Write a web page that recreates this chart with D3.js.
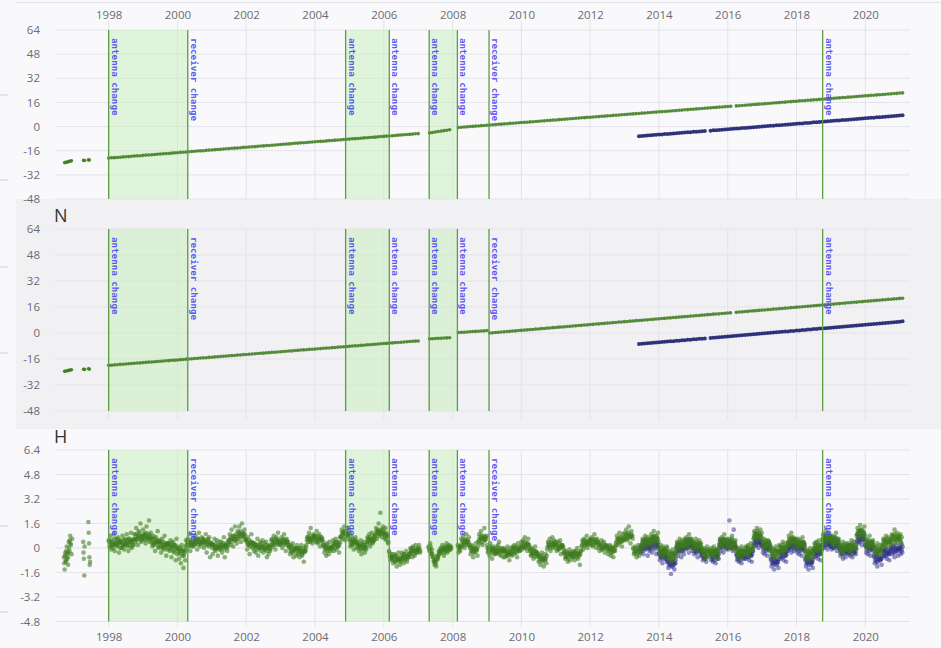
<!DOCTYPE html>
<html>
<head>
<meta charset="utf-8">
<script src="https://cdn.jsdelivr.net/npm/d3@7"></script>
<style>
  html, body { margin: 0; padding: 0; background: #f9f9fb; }
  svg { display: block; }
</style>
</head>
<body>
<svg id="chart" width="941" height="648"></svg>
<script>
// ---------------------------------------------------------------
// Station position time series: East, North (mm) and Height (mm)
// Two solutions: green (long record) and navy (recent record).
// ---------------------------------------------------------------

const yearTicks = [1998, 2000, 2002, 2004, 2006, 2008, 2010, 2012, 2014, 2016, 2018, 2020];
const posTicks = [64, 48, 32, 16, 0, -16, -32, -48];
const heightTicks = [6.4, 4.8, 3.2, 1.6, 0, -1.6, -3.2, -4.8];

// equipment events (decimal year) and their labels
const eventDates = [1998.0, 2000.3, 2004.89, 2006.16, 2007.32, 2008.14, 2009.06, 2018.76];
const eventLabels = ["antenna change", "receiver change", "antenna change", "antenna change",
                     "antenna change", "antenna change", "receiver change", "antenna change"];
// periods between paired events, highlighted
const shadedPairs = [[0, 1], [2, 3], [4, 5]];

// earliest campaign epochs
const earlyDates = [1996.72, 1996.76, 1996.80, 1996.84, 1996.88, 1996.92, 1997.27, 1997.30, 1997.41, 1997.44];
const eEarly = [-23.9, -23.6, -23.5, -23.2, -22.9, -22.7, -22.4, -22.5, -22.1, -22.2];
const nEarly = [-23.6, -23.4, -23.2, -23.0, -22.8, -22.6, -22.3, -22.4, -22.0, -22.2];

// ---- East, monthly values ----
const eGreenA = [ // from 1998.00
 -20.9,-20.7,-20.6,-20.5,-20.3,-20.1,-20.0,-19.9,-19.7,-19.5,-19.4,-19.3,
 -19.1,-18.9,-18.8,-18.7,-18.5,-18.3,-18.2,-18.0,-17.9,-17.8,-17.6,-17.4,
 -17.3,-17.1,-17.0,-16.9,-16.7,-16.5,-16.4,-16.2,-16.1,-16.0,-15.8,-15.6,
 -15.5,-15.3,-15.2,-15.1,-14.9,-14.7,-14.6,-14.4,-14.3,-14.2,-14.0,-13.8,
 -13.7,-13.5,-13.4,-13.3,-13.1,-12.9,-12.8,-12.6,-12.5,-12.4,-12.2,-12.0,
 -11.9,-11.7,-11.6,-11.5,-11.3,-11.1,-11.0,-10.8,-10.7,-10.6,-10.4,-10.2,
 -10.1,-9.9,-9.8,-9.7,-9.5,-9.3,-9.2,-9.0,-8.9,-8.8,-8.6,-8.4,
 -8.3,-8.1,-8.0,-7.9,-7.7,-7.5,-7.4,-7.2,-7.1,-7.0,-6.8,-6.6,
 -6.5,-6.3,-6.2,-6.1,-5.9,-5.7,-5.6,-5.4,-5.3,-5.2,-5.0,-4.8,
 -4.7];
const eGreenB = [-4.2,-3.9,-3.6,-3.3,-3.0,-2.7,-2.4,-2.1]; // from 2007.33
const eGreenC = [ // from 2008.17
 -0.6,-0.4,-0.3,-0.2,0.0,0.1,0.3,0.4,0.6,0.7,0.9,1.0,
 1.2,1.3,1.5,1.6,1.8,1.9,2.1,2.2,2.4,2.5,2.7,2.8,
 2.9,3.1,3.2,3.4,3.5,3.7,3.8,4.0,4.1,4.3,4.4,4.6,
 4.7,4.9,5.0,5.2,5.3,5.5,5.6,5.8,5.9,6.1,6.2,6.3,
 6.5,6.6,6.8,6.9,7.1,7.2,7.4,7.5,7.7,7.8,8.0,8.1,
 8.3,8.4,8.6,8.7,8.9,9.0,9.2,9.3,9.5,9.6,9.8,9.9,
 10.0,10.2,10.3,10.5,10.6,10.8,10.9,11.1,11.2,11.4,11.5,11.7,
 11.8,12.0,12.1,12.3,12.4,12.6,12.7,12.9,13.0,13.2,13.3,13.4];
const eGreenD = [ // from 2016.25
 13.7,13.8,14.0,14.1,14.3,14.4,14.6,14.7,14.9,15.0,15.2,15.3,
 15.5,15.6,15.8,15.9,16.1,16.2,16.4,16.5,16.7,16.8,17.0,17.1,
 17.2,17.4,17.5,17.7,17.8,18.0,18.1,18.3,18.4,18.6,18.7,18.9,
 19.0,19.2,19.3,19.5,19.6,19.8,19.9,20.1,20.2,20.4,20.5,20.7,
 20.8,21.0,21.1,21.3,21.4,21.6,21.7,21.9,22.0,22.2,22.3];
const eBlueA = [ // from 2013.42
 -6.4,-6.2,-6.1,-5.9,-5.8,-5.6,-5.5,-5.3,-5.2,-5.0,-4.9,-4.7,
 -4.6,-4.4,-4.3,-4.1,-4.0,-3.8,-3.7,-3.5,-3.4,-3.2,-3.1,-2.9];
const eBlueB = [ // from 2015.50
 -2.7,-2.5,-2.4,-2.2,-2.1,-1.9,-1.8,-1.6,-1.5,-1.3,-1.2,-1.0,
 -0.9,-0.7,-0.6,-0.4,-0.3,-0.1,0.0,0.2,0.3,0.5,0.6,0.8,
 0.9,1.1,1.2,1.4,1.5,1.7,1.8,2.0,2.1,2.3,2.4,2.6,
 2.8,2.9,3.1,3.2,3.4,3.5,3.7,3.8,4.0,4.1,4.3,4.4,
 4.6,4.7,4.9,5.0,5.2,5.3,5.5,5.6,5.8,5.9,6.1,6.2,
 6.4,6.5,6.7,6.8,7.0,7.1,7.3,7.5];

// ---- North, monthly values ----
const nGreenA = [ // from 1998.00
 -19.9,-19.8,-19.6,-19.5,-19.3,-19.2,-19.1,-18.9,-18.8,-18.6,-18.5,-18.4,
 -18.2,-18.1,-17.9,-17.8,-17.7,-17.5,-17.4,-17.2,-17.1,-17.0,-16.8,-16.7,
 -16.6,-16.4,-16.3,-16.1,-16.0,-15.9,-15.7,-15.6,-15.4,-15.3,-15.2,-15.0,
 -14.9,-14.7,-14.6,-14.5,-14.3,-14.2,-14.0,-13.9,-13.8,-13.6,-13.5,-13.3,
 -13.2,-13.1,-12.9,-12.8,-12.6,-12.5,-12.4,-12.2,-12.1,-11.9,-11.8,-11.7,
 -11.5,-11.4,-11.2,-11.1,-11.0,-10.8,-10.7,-10.5,-10.4,-10.3,-10.1,-10.0,
 -9.9,-9.7,-9.6,-9.4,-9.3,-9.2,-9.0,-8.9,-8.7,-8.6,-8.5,-8.3,
 -8.2,-8.0,-7.9,-7.8,-7.6,-7.5,-7.3,-7.2,-7.1,-6.9,-6.8,-6.6,
 -6.5,-6.4,-6.2,-6.1,-5.9,-5.8,-5.7,-5.5,-5.4,-5.2,-5.1,-5.0,
 -4.9];
const nGreenB = [-3.6,-3.5,-3.4,-3.3,-3.2,-3.1,-3.0,-2.9]; // from 2007.33
const nGreenC = [0.3,0.4,0.5,0.6,0.8,0.9,1.0,1.1,1.2,1.3,1.5]; // from 2008.17
const nGreenD = [ // from 2009.08
 0.0,0.1,0.3,0.4,0.6,0.7,0.9,1.0,1.2,1.3,1.5,1.6,
 1.8,1.9,2.1,2.2,2.4,2.5,2.7,2.8,3.0,3.1,3.3,3.4,
 3.6,3.7,3.8,4.0,4.1,4.3,4.4,4.6,4.7,4.9,5.0,5.2,
 5.3,5.5,5.6,5.8,5.9,6.1,6.2,6.4,6.5,6.7,6.8,7.0,
 7.1,7.3,7.4,7.6,7.7,7.8,8.0,8.1,8.3,8.4,8.6,8.7,
 8.9,9.0,9.2,9.3,9.5,9.6,9.8,9.9,10.1,10.2,10.4,10.5,
 10.7,10.8,11.0,11.1,11.3,11.4,11.6,11.7,11.8,12.0,12.1,12.3,12.4];
const nGreenE = [ // from 2016.25
 12.7,12.9,13.0,13.2,13.3,13.5,13.6,13.8,13.9,14.1,14.2,14.4,
 14.5,14.7,14.8,15.0,15.1,15.3,15.4,15.6,15.7,15.9,16.0,16.2,
 16.3,16.5,16.6,16.8,16.9,17.1,17.2,17.4,17.5,17.7,17.8,18.0,
 18.1,18.3,18.4,18.6,18.7,18.9,19.0,19.2,19.3,19.5,19.6,19.8,
 19.9,20.1,20.2,20.4,20.5,20.7,20.8,21.0,21.1,21.3,21.4];
const nBlueA = [ // from 2013.42
 -6.8,-6.6,-6.5,-6.3,-6.2,-6.0,-5.9,-5.7,-5.6,-5.4,-5.3,-5.1,
 -5.0,-4.8,-4.7,-4.5,-4.4,-4.2,-4.1,-3.9,-3.8,-3.6,-3.5,-3.4];
const nBlueB = [ // from 2015.50
 -3.1,-2.9,-2.8,-2.6,-2.5,-2.3,-2.2,-2.0,-1.9,-1.7,-1.6,-1.4,
 -1.3,-1.1,-0.9,-0.8,-0.6,-0.5,-0.3,-0.2,0.0,0.1,0.3,0.4,
 0.6,0.7,0.9,1.0,1.2,1.3,1.5,1.6,1.8,1.9,2.1,2.2,
 2.4,2.5,2.7,2.8,3.0,3.1,3.3,3.4,3.6,3.7,3.9,4.0,
 4.2,4.3,4.5,4.6,4.8,4.9,5.1,5.2,5.4,5.5,5.7,5.8,
 6.0,6.1,6.3,6.4,6.6,6.7,6.9,7.2];

// ---- Height, solutions every 0.025 yr (two interleaved runs) ----
const hEarlyDates = [1996.70,1996.71,1996.72,1996.73,1996.74,1996.75,1996.76,1996.77,1996.78,1996.79,1996.80,1996.81,
                     1996.82,1996.83,1996.84,1996.85,1996.86,1996.87,1996.88,1996.89,1996.90,1996.92,1996.94,
                     1997.26,1997.27,1997.28,1997.29,1997.30,1997.41,1997.42,1997.43,1997.44,1997.45,1997.46];
const hEarly = [-0.6,-1.0,-1.4,-0.5,-0.3,-0.8,-0.9,-0.2,0.1,-0.4,-0.7,-0.6,
                -1.1,-0.3,0.4,0.0,-0.2,0.5,0.8,0.3,0.2,-0.4,0.6,
                0.4,-0.3,-0.7,-1.8,0.1,1.7,1.0,0.3,-0.6,-1.1,-0.9];
const hGreenA = [ // from 1998.000
 .5,.1,.8,-.1,.4,.2,.9,-.2,.3,.6, .1,.7,-.3,.4,.5,.0,.8,.2,-.1,.6,
 .3,.9,.1,-.2,.6,.4,1.0,.0,.5,.2, .9,.4,1.3,.6,.2,1.1,.8,1.6,.5,.7,
 1.2,.5,.9,.3,1.4,.7,.6,1.8,.4,1.0, .6,.1,.8,.3,-.2,.7,.4,1.1,.0,.5,
 .4,-.3,.6,.1,-.1,.8,.2,-.5,.3,.0, .3,-.2,.5,-.6,.1,.4,-.3,.2,-.8,.6,
 -.4,.1,-.7,-.1,-1.0,.2,-.5,-1.3,-.2,-.8, .5,-.1,.6,.2,.9,-.2,.4,.1,.7,.3,
 .2,.8,.5,-.1,.6,1.0,.3,.1,.7,.4, .6,.0,.4,.9,-.3,.5,.2,.7,-.6,.3,
 .3,-.4,.2,.6,-.2,.0,.5,-.5,.1,.4, -.1,.4,-.3,.2,.7,-.6,.1,.3,-.2,.5,
 .4,.9,.2,1.2,.6,.1,.8,1.4,.5,.3, 1.1,.6,1.4,.8,.4,1.6,.9,.7,1.2,.5,
 .5,-.1,.7,.2,-.4,.4,.9,.0,.3,-.2, .3,-.3,.2,.6,-.5,.0,.4,-.2,.1,.5,
 -.3,.3,-.1,.4,-.6,.1,-.4,.2,-.2,.5, .6,.1,.8,.3,-.1,.7,.5,1.0,.2,.4,
 .2,.7,.0,.5,.9,.3,-.2,.6,.4,.1, .1,-.4,.2,-.3,.3,-.6,-.1,.0,-.5,.2,
 -.4,.0,-.6,-.1,.2,-.5,-.3,-.9,.1,-.2, .2,.7,.4,1.0,.5,1.3,.6,.3,.9,.8,
 .8,.4,1.1,.3,.6,.9,.1,.7,.5,.2, .2,-.3,.1,-.5,.3,-.1,-.4,.4,.0,-.2,
 .0,.5,-.2,.3,.6,-.1,.4,.1,-.3,.7, .7,1.2,.6,1.0,1.4,.5,1.1,.8,1.3,.9,
 .6,.1,.8,.2,.5,-.1,.4,.7,.0,.3, .3,-.2,.1,.5,-.4,.2,-.1,.4,-.3,.0,
 .2,.7,.4,.9,.1,.6,1.0,.3,.8,.5, .8,1.3,.6,1.1,1.6,.9,2.3,1.2,.7,1.4,
 1.0,.6,1.3,.5,.9,.3,-.2,-.5,-.8,-.4, -.6,-1.0,-.4,-.9,-.5,-1.2,-.7,-.3,-.8,-1.1,
 -.8,-.3,-.6,-1.0,-.4,-.7,-.2,-.9,-.5,-.6, -.4,.0,-.3,-.6,.1,-.2,-.5,.2,-.1,-.3,
 -.1,.2,-.3];
const hGreenA2 = [ // from 1998.0125
 .4,.2,.5,.1,.3,.0,.6,.3,.2,.4, .2,.5,.3,.0,.4,.3,.1,.5,.2,.3,
 .5,.2,.4,.6,.3,.1,.4,.5,.2,.6, .6,.9,.5,.8,.7,1.0,.6,.4,.8,.7,
 .9,.6,.8,1.0,.7,.5,.9,.8,.6,.7, .3,.5,.2,.6,.4,.3,.5,.1,.4,.3,
 .1,.3,.0,.4,.2,.1,.3,-.1,.2,.3, .2,-.1,.1,.3,.0,-.2,.2,.1,-.1,.0,
 -.1,-.3,-.2,.0,-.4,-.2,-.1,-.5,-.3,.1, .2,.4,.3,.1,.5,.2,.3,.4,.1,.3,
 .5,.3,.4,.6,.2,.4,.5,.3,.4,.6, .3,.5,.2,.4,.3,.6,.1,.4,.3,.2,
 .0,.2,.1,-.1,.3,.1,.0,.2,-.1,.1, .2,.0,.1,.3,-.1,.1,.2,.0,.1,.3,
 .5,.7,.6,.4,.8,.6,.5,.7,.9,.6, .8,1.0,.9,1.1,.7,.9,1.0,.8,.9,.6,
 .4,.2,.3,.5,.1,.3,.4,.2,.3,.1, .0,.2,.1,-.1,.2,.1,.0,.3,.1,.0,
 .1,-.1,.0,.2,-.2,.0,.1,-.1,.0,.2, .3,.5,.4,.2,.6,.4,.3,.5,.4,.3,
 .5,.3,.4,.6,.2,.4,.5,.3,.4,.2, .0,-.2,-.1,.1,-.3,-.1,.0,-.2,-.1,.0,
 -.1,-.3,-.2,.0,-.4,-.2,-.1,-.3,-.2,.0, .5,.7,.6,.8,.4,.6,.7,.5,.6,.8,
 .7,.5,.6,.8,.4,.6,.5,.7,.6,.4, .1,-.1,.0,.2,-.2,.0,.1,-.1,.0,.1,
 .1,.3,.2,.0,.4,.2,.1,.3,.2,.4, .8,1.0,.9,1.1,.7,.9,1.0,.8,.9,1.1,
 .5,.3,.4,.2,.6,.4,.3,.5,.4,.2, .0,.2,.1,-.1,.3,.1,.0,.2,.1,-.1,
 .4,.6,.5,.7,.3,.5,.6,.4,.5,.7, .9,1.1,1.0,1.2,.8,1.0,1.1,.9,1.0,1.2,
 .9,.8,1.0,.7,.8,.4,-.3,-.6,-.7,-.6, -.6,-.8,-.7,-.5,-.9,-.7,-.6,-.8,-.7,-.9,
 -.5,-.7,-.6,-.4,-.8,-.6,-.5,-.7,-.6,-.4, -.3,-.1,-.2,.0,-.4,-.2,-.1,-.3,-.2,.0,
 -.1,.0,-.2];
const hGreenB = [ // from 2007.300
 .1,-.2,.3,-.4,-.1,-.6,-.9,-1.1,-.8,-1.2,-.5,-.7,-.2,-.4,.0,-.3,.2,-.1,-.5,.1,-.2,.3,-.3,.0,.2,-.1,.1];
const hGreenB2 = [ // from 2007.3125
 .0,-.1,.1,-.3,-.4,-.6,-.8,-.9,-1.0,-.8,-.6,-.5,-.3,-.2,-.1,-.2,.0,-.1,-.3,.0,-.1,.1,-.2,.0,.1,-.1,.0];
const hGreenC = [ // from 2008.150
 .2,-.3,.1,-.2,
 .6,.1,.8,.3,.0,.5,.9,.2,.4,.7, .1,-.4,.2,-.2,-.6,.0,-.3,.3,-.1,-.5, .4,.9,.3,1.1,.6,.2,.8,1.3,.5,.7,
 .2,-.3,.0,-.5,.3,-.2,-.7,.1,-.4,-.1, -.4,.1,-.3,.2,.4,-.1,-.5,.0,-.2,-.6,
 -.1,-.6,-.2,-.5,.1,-.4,-.8,-.3,.0,-.5, .1,-.4,.2,-.3,.0,-.6,.3,-.1,-.2,.1,
 .4,-.1,.5,.1,.7,.0,.3,-.2,.6,.2, -.1,-.5,.0,-.4,-.7,-.2,.1,-.6,-.3,-.4,
 -.9,-.5,-1.1,-.6,-.3,-.8,-1.2,-.7,-.4,-1.0, -.1,.4,.1,.6,-.2,.3,.7,.0,.5,.2,
 .3,-.2,.4,-.1,.0,.5,-.4,.2,.1,-.3, -.3,-.7,-.2,-.6,-.9,-.4,-.1,-.8,-.5,-.3,
 -.6,-.2,-.8,-.3,-.5,.0,-.7,-.4,-1.1,-.2, .1,.5,-.1,.6,.2,.4,.8,.0,.3,.5,
 .6,.2,.7,.1,.5,.9,.3,.0,.6,.4, .3,-.2,.2,.5,-.1,.0,.4,-.3,.1,.2,
 .1,-.4,-.1,.2,-.5,.0,-.3,-.6,.1,-.2, .3,.8,.2,.6,1.0,.4,.7,.1,.9,.5,
 1.0,.6,1.2,.5,.9,1.4,.7,.3,1.1,.8, .0,-.4,.1,-.3,-.6,-.1,.2,-.5,-.2,.1,
 .2,.6,.1,.5,.8,.3,.0,.7,.4,.6, .4,.9,.3,.7,1.1,.5,.2,.8,.6,1.0,
 .0,-.4,.2,-.3,-.6,.1,-.1,-.5,-.2,.1, -.3,-.7,-.2,-.6,-.9,-.4,-.1,-.8,-.5,-.3,
 .0,.4,-.1,.3,.6,.1,-.2,.5,.2,.4, .6,.2,.7,.1,.5,.9,.3,.0,.6,.4,
 .4,-.1,.3,.6,.0,.2,-.2,.5,.1,.3, -.1,-.5,.0,-.4,-.7,-.2,.1,-.6,-.3,-.1,
 -.4,.0,-.5,-.2,.1,-.6,-.3,-.1,-.7,-.2, .2,.6,.1,.7,.3,.5,.9,.0,.4,.6,
 .5,.1,.6,.0,.4,.8,.2,-.1,.3,.5, -.1,-.5,.0,-.4,-.7,-.2,.1,-.6,-.3,-.2,
 -.3,.1,-.4,.0,.2,-.5,-.2,.3,-.1,.0, .6,1.1,.7,.9,1.3,.5,1.0,.8,1.2,.7,
 .5,.1,.6,.0,.4,.2,-.1,.5,.3,.1, -.1,-.5,.0,-.4,-.7,-.2,.1,-.6,-.3,-.2,
 .2,-.3,.1,-.2,.4,-.4,.0,.3,-.1,.1, .3,.8,.2,.6,1.0,.4,.7,.1,.5,.6,
 .5,.0,.6,.2,.4,-.1,.3,.7,.1,.3, -.2,-.6,-.1,-.5,-.8,-.3,.0,-.7,-.4,-.2,
 -.1,.3,.0,.4,-.2,.2,.5,-.3,.1,.2, .4,.9,.5,.8,1.1,.3,.7,1.0,.6,.8,
 .7,.3,.8,.2,.6,.4,1.0,.1,.5,.6, .2,-.3,.1,-.2,.4,-.4,.0,.3,-.1,.1,
 .3,-.2,.2,-.1,.5,-.3,.1,.4,.0,.2, .8,1.3,.7,1.1,1.5,.9,1.2,.6,1.0,1.4,
 .5,.1,.6,.0,.4,.8,.2,-.1,.3,.5, .1,-.4,.0,-.3,.3,-.2,-.5,.2,-.1,-.3,
 .2,.6,.1,.5,.8,.3,.0,.7,.4,.6, .4,.9,.5,.8,1.2,.3,.7,1.0,.6,.8,
 .5,.9,.3];
const hGreenC2 = [ // from 2008.1625
 .1,-.1,.0,.1,
 .3,.5,.4,.2,.6,.4,.3,.5,.4,.2, .0,-.2,-.1,.1,-.3,-.1,.0,-.2,-.1,.1, .5,.7,.6,.8,.4,.6,.7,.5,.6,.8,
 .0,-.2,-.1,.1,-.3,-.1,.0,-.2,-.1,-.3, -.1,-.3,-.2,.0,-.4,-.2,-.1,-.3,-.2,.0,
 -.2,-.4,-.3,-.1,-.5,-.3,-.2,-.4,-.3,-.1, .0,-.2,-.1,.1,-.3,-.1,.0,-.2,-.1,.1,
 .1,.3,.2,.0,.4,.2,.1,.3,.2,.0, -.2,-.4,-.3,-.1,-.5,-.3,-.2,-.4,-.3,-.5,
 -.6,-.8,-.7,-.5,-.9,-.7,-.6,-.8,-.7,-.5, .1,.3,.2,.0,.4,.2,.1,.3,.2,.4,
 .0,.2,.1,-.1,.3,.1,.0,.2,.1,-.1, -.4,-.6,-.5,-.3,-.7,-.4,-.3,-.5,-.4,-.6,
 -.3,-.5,-.4,-.2,-.6,-.4,-.3,-.5,-.4,-.2, .2,.4,.3,.1,.5,.3,.2,.4,.3,.5,
 .3,.5,.4,.2,.6,.4,.3,.5,.4,.2, .0,.2,.1,-.1,.3,.1,.0,.2,.1,-.1,
 .0,-.2,-.1,.1,-.3,-.1,.0,-.2,-.1,.1, .4,.6,.5,.3,.7,.5,.4,.6,.5,.7,
 .7,.9,.8,.6,1.0,.8,.7,.9,.8,.6, -.1,-.3,-.2,.0,-.4,-.2,-.1,-.3,-.2,.0,
 .3,.5,.4,.2,.6,.4,.3,.5,.4,.2, .5,.7,.6,.4,.8,.6,.5,.7,.6,.4,
 -.1,-.3,-.2,.0,-.4,-.2,-.1,-.3,-.2,.0, -.4,-.6,-.5,-.3,-.7,-.4,-.3,-.5,-.4,-.6,
 .1,.3,.2,.0,.4,.2,.1,.3,.2,.0, .3,.5,.4,.2,.6,.4,.3,.5,.4,.2,
 .1,.3,.2,.0,.4,.2,.1,.3,.2,.0, -.2,-.4,-.3,-.1,-.5,-.2,-.1,-.3,-.2,-.4,
 -.2,-.4,-.3,-.1,-.5,-.2,-.1,-.3,-.2,-.4, .3,.5,.4,.2,.6,.4,.3,.5,.4,.2,
 .2,.4,.3,.1,.5,.3,.2,.4,.3,.1, -.2,-.4,-.3,-.1,-.5,-.2,-.1,-.3,-.2,-.4,
 .0,-.2,-.1,.1,-.3,-.1,.0,-.2,-.1,.1, .8,1.0,.9,.7,1.1,.8,.7,.9,.8,1.0,
 .2,.4,.3,.1,.5,.3,.2,.4,.3,.1, -.2,-.4,-.3,-.1,-.5,-.2,-.1,-.3,-.2,-.4,
 .1,-.1,.0,.2,-.2,.0,.1,-.1,.0,.2, .4,.6,.5,.3,.7,.5,.4,.6,.5,.3,
 .2,.4,.3,.1,.5,.3,.2,.4,.3,.1, -.3,-.5,-.4,-.2,-.6,-.3,-.2,-.4,-.3,-.5,
 .0,.2,.1,-.1,.3,.1,.0,.2,.1,-.1, .6,.8,.7,.5,.9,.6,.5,.7,.6,.8,
 .4,.6,.5,.3,.7,.5,.4,.6,.5,.3, .1,-.1,.0,.2,-.2,.0,.1,-.1,.0,.2,
 .0,.2,.1,-.1,.3,.1,.0,.2,.1,-.1, .9,1.1,1.0,.8,1.2,1.0,.9,1.1,1.0,.8,
 .2,.4,.3,.1,.5,.3,.2,.4,.3,.1, .0,-.2,-.1,.1,-.3,-.1,.0,-.2,-.1,.1,
 .3,.5,.4,.2,.6,.4,.3,.5,.4,.2, .6,.8,.7,.5,.9,.6,.5,.7,.6,.8,
 .6,.4,.7];
const hBlueA = [ // from 2013.450
 .1,-.3,
 -.2,.4,-.4,.2,-.1,.5,.0,-.5,.3,-.2, .0,.5,-.3,.3,.7,-.1,.2,-.4,.4,.1,
 -.3,-.8,-.2,-.6,-1.0,-.4,-.1,-.7,-.5,-.9, -.8,-1.3,-.6,-1.1,-1.7,-.9,-1.2,-.7,-1.4,-1.0,
 -.3,.2,-.5,.0,-.2,.3,-.6,-.1,.1,-.4, .4,-.1,.5,.0,.3,-.3,.6,.1,.2,-.2,
 .1,-.4,.2,-.3,.0,-.6,.3,-.2,-.1,-.5,
 -.4,-.8,-.3,-.7,-.5,-.9];
const hBlueA2 = [ // from 2013.4625
 .0,-.1,
 .0,.2,.1,-.1,.3,.1,.0,.2,.1,-.1, .1,.3,.2,.0,.4,.2,.1,.3,.2,.0,
 -.4,-.6,-.5,-.3,-.7,-.5,-.4,-.6,-.5,-.7, -.9,-1.1,-1.0,-.8,-1.2,-1.0,-.9,-1.1,-1.0,-.8,
 .0,-.2,-.1,.1,-.3,-.1,.0,-.2,-.1,.1, .1,.3,.2,.0,.4,.2,.1,.3,.2,.0,
 .0,-.2,-.1,.1,-.3,-.1,.0,-.2,-.1,-.3,
 -.5,-.6,-.4,-.7,-.5,-.6];
const hBlueB = [ // from 2015.500
 -.3,-.8,-.4,-.9,-.6,-.2,-1.0,-.5,-.7,-.4, .0,.5,-.2,.4,.1,-.3,.6,.2,-.1,.3,
 .4,-.1,1.8,.3,.0,.6,-.2,1.2,.2,.1, -.4,-.8,-.3,-.9,-.6,-.2,-1.0,-.5,-.7,-.3,
 -.2,-.7,-.3,-.6,-.1,-.8,-.4,-.5,-.9,-.2, .2,.7,.1,.5,.9,.3,.0,.6,.4,.2,
 .2,-.3,.1,-.4,.3,-.1,-.5,.0,.4,-.2, -.7,-1.2,-.6,-1.0,-1.4,-.8,-.5,-1.1,-.9,-1.3,
 -.2,-.7,-.3,-.6,-.1,-.8,-.4,-.5,-.9,-.2, -.1,.4,.0,.3,-.3,.2,.5,-.2,.1,.3,
 .2,-.3,.1,-.4,.3,-.1,-.5,.0,.4,-.2, -.7,-1.2,-.6,-1.0,-1.4,-.8,-.5,-1.1,-.9,-1.3,
 -.1,-.6,-.2,-.5,.0,-.7,-.3,-.4,-.8,-.1, .1,.6,.0,.4,.8,.2,-.1,.5,.3,.1,
 .4,-.1,.5,.0,.3,.7,.1,-.2,.2,.4, .0,-.5,.1,-.4,-.7,-.1,.2,-.6,-.3,.0,
 -.4,.1,-.5,-.1,.2,-.6,-.2,-.3,.0,-.4, .4,.9,.3,.7,1.1,.5,.2,.8,.6,.9,
 .2,-.3,.1,-.4,.3,-.1,-.5,.0,.4,-.2, -.5,-1.0,-.4,-.9,-1.2,-.6,-.3,-.8,-.7,-1.1,
 -.1,-.6,-.2,-.5,.0,-.7,-.3,-.4,-.8,-.1, .1,-.4,.2,-.3,-.6,.0,-.2,.3,-.5,-.1,
 .0,-.4,.2,-.3];
const hBlueB2 = [ // from 2015.5125
 -.5,-.7,-.6,-.4,-.8,-.5,-.4,-.6,-.5,-.7, .1,.3,.2,.0,.4,.2,.1,.3,.2,.0,
 .1,.3,.2,.4,.0,.2,.3,.1,.2,.0, -.5,-.7,-.6,-.4,-.8,-.5,-.4,-.6,-.5,-.7,
 -.3,-.5,-.4,-.2,-.6,-.4,-.3,-.5,-.4,-.2, .3,.5,.4,.2,.6,.4,.3,.5,.4,.2,
 .1,-.1,.0,.2,-.2,.0,.1,-.1,.0,.2, -.8,-1.0,-.9,-.7,-1.1,-.9,-.8,-1.0,-.9,-.7,
 -.3,-.5,-.4,-.2,-.6,-.4,-.3,-.5,-.4,-.2, .0,.2,.1,-.1,.3,.1,.0,.2,.1,-.1,
 .1,-.1,.0,.2,-.2,.0,.1,-.1,.0,.2, -.8,-1.0,-.9,-.7,-1.1,-.9,-.8,-1.0,-.9,-.7,
 -.2,-.4,-.3,-.1,-.5,-.3,-.2,-.4,-.3,-.1, .2,.4,.3,.1,.5,.3,.2,.4,.3,.1,
 .1,.3,.2,.0,.4,.2,.1,.3,.2,.0, -.1,-.3,-.2,.0,-.4,-.2,-.1,-.3,-.2,.0,
 -.1,-.3,-.2,.0,-.4,-.2,-.1,-.3,-.2,.0, .5,.7,.6,.4,.8,.6,.5,.7,.6,.4,
 .1,-.1,.0,.2,-.2,.0,.1,-.1,.0,.2, -.6,-.8,-.7,-.5,-.9,-.7,-.6,-.8,-.7,-.5,
 -.2,-.4,-.3,-.1,-.5,-.3,-.2,-.4,-.3,-.1, .0,-.2,-.1,.1,-.3,-.1,.0,-.2,-.1,.1,
 .0,-.2,-.1,.1];

// ---------------------------------------------------------------
const MONTH = 1 / 12, STEP_H = 0.025;
function seg(start, step, values) {
  return values.map((v, i) => ({ t: start + i * step, v }));
}
function dated(dates, values) {
  return values.map((v, i) => ({ t: dates[i], v }));
}

const eGreen = [].concat(dated(earlyDates, eEarly), seg(1998.0, MONTH, eGreenA), seg(2007.33, MONTH, eGreenB),
                         seg(2008.17, MONTH, eGreenC), seg(2016.25, MONTH, eGreenD));
const eBlue = [].concat(seg(2013.42, MONTH, eBlueA), seg(2015.5, MONTH, eBlueB));
const nGreen = [].concat(dated(earlyDates, nEarly), seg(1998.0, MONTH, nGreenA), seg(2007.33, MONTH, nGreenB),
                         seg(2008.17, MONTH, nGreenC), seg(2009.08, MONTH, nGreenD), seg(2016.25, MONTH, nGreenE));
const nBlue = [].concat(seg(2013.42, MONTH, nBlueA), seg(2015.5, MONTH, nBlueB));
const hGreen = [].concat(dated(hEarlyDates, hEarly),
                         seg(1998.0, STEP_H, hGreenA), seg(1998.0125, STEP_H, hGreenA2),
                         seg(2007.3, STEP_H, hGreenB), seg(2007.3125, STEP_H, hGreenB2),
                         seg(2008.15, STEP_H, hGreenC), seg(2008.1625, STEP_H, hGreenC2));
const hBlue = [].concat(seg(2013.45, STEP_H, hBlueA), seg(2013.4625, STEP_H, hBlueA2),
                        seg(2015.5, STEP_H, hBlueB), seg(2015.5125, STEP_H, hBlueB2));

// ---------------------------------------------------------------
const GREEN = "#3c7a1c", NAVY = "#1f2170", NAVY_H = "#2a2a8a";
const GRID = "#e3e3e9";
const W = 941, H = 648;
const svg = d3.select("#chart");

svg.append("rect").attr("width", W).attr("height", H).attr("fill", "#f9f9fb");
// highlighted middle panel background
svg.append("rect").attr("x", 16).attr("y", 199).attr("width", W - 16).attr("height", 230).attr("fill", "#f1f1f4");
// thin separator at the very top
svg.append("line").attr("x1", 16).attr("x2", W).attr("y1", 2.5).attr("y2", 2.5).attr("stroke", "#e2e2e8");
// small marks along the left edge
[95, 180, 267, 353, 526, 612].forEach(y => {
  svg.append("line").attr("x1", 0).attr("x2", 8).attr("y1", y).attr("y2", y)
    .attr("stroke", "#ccd2de").attr("stroke-width", 1);
});

const x = d3.scaleLinear().domain([1996.44, 2021.3]).range([55, 910]);

const panels = [
  { name: "", domain: [-48, 64], range: [199, 30], ticks: posTicks, vgrid: [20, 199],
    series: [{ data: eGreen, color: GREEN, r: 1.8, op: 0.85 }, { data: eBlue, color: NAVY, r: 2.0, op: 0.9 }] },
  { name: "N", domain: [-48, 64], range: [411, 229], ticks: posTicks, vgrid: [229, 420],
    series: [{ data: nGreen, color: GREEN, r: 1.8, op: 0.85 }, { data: nBlue, color: NAVY, r: 2.0, op: 0.9 }] },
  { name: "H", domain: [-4.8, 6.4], range: [621.5, 450], ticks: heightTicks, vgrid: [450, 627],
    series: [{ data: hBlue, color: NAVY_H, r: 2.3, op: 0.5 }, { data: hGreen, color: GREEN, r: 2.3, op: 0.58 }] }
];

panels.forEach(p => {
  const y = d3.scaleLinear().domain(p.domain).range(p.range);
  const g = svg.append("g");
  const top = p.range[1], bottom = p.range[0];

  // vertical grid
  g.append("g").selectAll("line").data(yearTicks).join("line")
    .attr("x1", d => x(d)).attr("x2", d => x(d))
    .attr("y1", p.vgrid[0]).attr("y2", p.vgrid[1])
    .attr("stroke", GRID).attr("stroke-width", 1);
  // horizontal grid
  g.append("g").selectAll("line").data(p.ticks).join("line")
    .attr("x1", 55).attr("x2", 910)
    .attr("y1", d => y(d)).attr("y2", d => y(d))
    .attr("stroke", GRID).attr("stroke-width", 1);

  // highlighted periods
  g.append("g").selectAll("rect").data(shadedPairs).join("rect")
    .attr("x", d => x(eventDates[d[0]]))
    .attr("width", d => x(eventDates[d[1]]) - x(eventDates[d[0]]))
    .attr("y", top).attr("height", bottom - top)
    .attr("fill", "#c6f0b9").attr("opacity", 0.5);

  // y axis labels
  const yAxis = d3.axisLeft(y).tickValues(p.ticks).tickSize(0).tickPadding(3).tickFormat(d => String(d));
  const ya = g.append("g").attr("transform", "translate(43,0)").call(yAxis);
  ya.select(".domain").remove();
  ya.selectAll("text").attr("fill", "#6b6b70").style("font", "11.5px 'Open Sans', sans-serif");

  // panel title
  if (p.name) {
    g.append("text").attr("x", 54).attr("y", top - 7).text(p.name)
      .attr("fill", "#333").style("font", "18px 'Open Sans', sans-serif");
  }

  // data points
  p.series.forEach(s => {
    g.append("g").selectAll("circle").data(s.data).join("circle")
      .attr("cx", d => x(d.t)).attr("cy", d => y(d.v)).attr("r", s.r)
      .attr("fill", s.color).attr("fill-opacity", s.op);
  });

  // event lines and labels
  g.append("g").selectAll("line").data(eventDates).join("line")
    .attr("x1", d => x(d)).attr("x2", d => x(d))
    .attr("y1", top).attr("y2", bottom)
    .attr("stroke", "#5b9c45").attr("stroke-width", 1.3);
  g.append("g").selectAll("text").data(eventDates).join("text")
    .attr("transform", d => `translate(${x(d) + 3},${top + 8}) rotate(90)`)
    .text((d, i) => eventLabels[i])
    .attr("fill", "#4646f0").attr("fill-opacity", 0.9)
    .style("font", "bold 9.2px 'DejaVu Sans Mono', monospace");
});

// year labels: above the first panel and below the last
const xTop = d3.axisTop(x).tickValues(yearTicks).tickSize(0).tickPadding(3).tickFormat(d3.format("d"));
const xt = svg.append("g").attr("transform", "translate(0,22)").call(xTop);
const xBottom = d3.axisBottom(x).tickValues(yearTicks).tickSize(0).tickPadding(6).tickFormat(d3.format("d"));
const xb = svg.append("g").attr("transform", "translate(0,627)").call(xBottom);
[xt, xb].forEach(a => {
  a.select(".domain").remove();
  a.selectAll("text").attr("fill", "#6b6b70").style("font", "11.5px 'Open Sans', sans-serif");
});
</script>
</body>
</html>
